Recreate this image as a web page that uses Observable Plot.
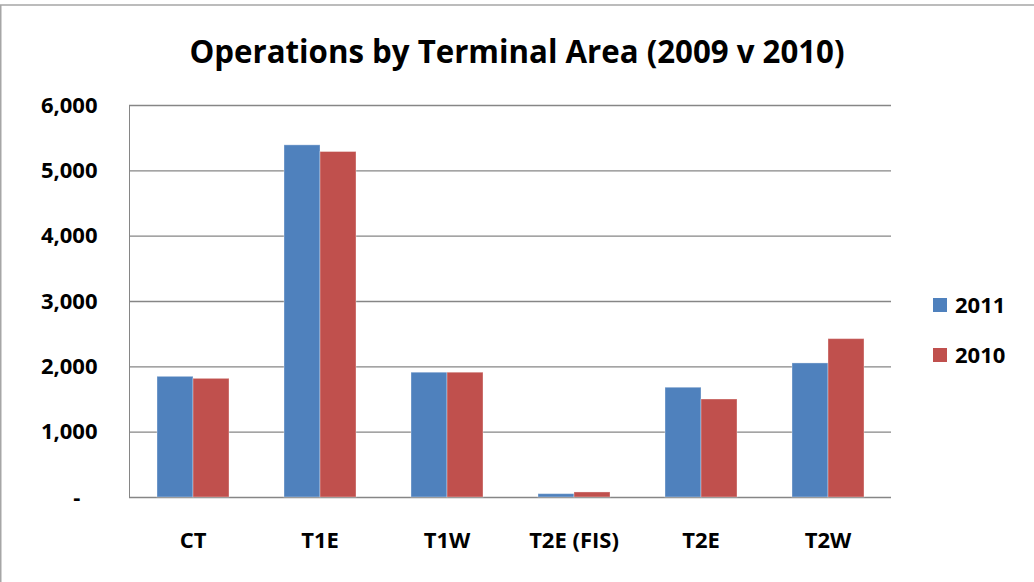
<!DOCTYPE html>
<html>
<head>
<meta charset="utf-8">
<script src="https://cdn.jsdelivr.net/npm/d3@7"></script>
<script src="https://cdn.jsdelivr.net/npm/@observablehq/plot@0.6"></script>
<style>
  html, body { margin: 0; padding: 0; background: #fff; }
  #wrap { position: relative; width: 1034px; height: 582px; overflow: hidden; }
  #wrap svg { display: block; }
  #wrap svg text { fill: #000; }
</style>
</head>
<body>
<div id="wrap"></div>
<script>
const title = "Operations by Terminal Area (2009 v 2010)";
const categories = ["CT", "T1E", "T1W", "T2E (FIS)", "T2E", "T2W"];
const series = ["2011", "2010"];
const values2011 = [1847, 5390, 1910, 51, 1680, 2052];
const values2010 = [1816, 5288, 1910, 77, 1500, 2424];
const yTicks = [0, 1000, 2000, 3000, 4000, 5000, 6000];
const colors = ["#4F81BD", "#C0504D"];

const data = categories.flatMap((c, i) => [
  {category: c, series: series[0], value: values2011[i]},
  {category: c, series: series[1], value: values2010[i]}
]);

const fmt = d3.format(",");
const chart = Plot.plot({
  width: 1034,
  height: 582,
  marginLeft: 127,
  marginRight: 141,
  marginTop: 105,
  marginBottom: 85,
  style: {fontFamily: "'Open Sans', sans-serif", fontSize: "22px", fontWeight: "bold", color: "#868686", background: "transparent"},
  fx: {domain: categories, paddingInner: 0, paddingOuter: 0, label: null, axis: "bottom", tickSize: 0, tickPadding: 35},
  x: {domain: series, paddingInner: 0, paddingOuter: 0.75, axis: null},
  y: {domain: [0, 6000], ticks: yTicks, tickFormat: d => d === 0 ? "-\u00a0\u00a0\u00a0" : fmt(d), tickSize: 0, tickPadding: 32, label: null, line: true},
  color: {domain: series, range: colors},
  marks: [
    Plot.ruleY(yTicks, {stroke: "#868686", strokeWidth: 1.3}),
    Plot.barY(data, {fx: "category", x: "series", y: "value", fill: "series", stroke: "#ffffff", strokeOpacity: 0.35, strokeWidth: 1})
  ]
});

const wrap = document.getElementById("wrap");
wrap.appendChild(chart);
const svg = d3.select(chart);

// outer chart border (top and left edges visible)
svg.append("line").attr("x1", 0).attr("x2", 1034).attr("y1", 5).attr("y2", 5).attr("stroke", "#a6a6a6").attr("stroke-width", 1.5);
svg.append("line").attr("x1", 0.75).attr("x2", 0.75).attr("y1", 5).attr("y2", 582).attr("stroke", "#a6a6a6").attr("stroke-width", 1.5);

// title
svg.append("text")
  .attr("x", 517).attr("y", 63)
  .attr("text-anchor", "middle")
  .attr("textLength", 655).attr("lengthAdjust", "spacingAndGlyphs")
  .style("font-family", "'Open Sans', sans-serif").style("font-weight", "bold").style("font-size", "32px")
  .style("fill", "#000")
  .text(title);

// legend
const color = chart.scale("color");
const lg = svg.append("g");
series.forEach((s, i) => {
  const cy = 305 + i * 50;
  lg.append("rect").attr("x", 933).attr("y", cy - 7).attr("width", 14).attr("height", 14).attr("fill", color.apply(s));
  lg.append("text").attr("x", 955).attr("y", cy).attr("dy", "0.35em")
    .attr("text-anchor", "start")
    .style("font-family", "'Open Sans', sans-serif").style("font-weight", "bold").style("font-size", "22px")
    .style("fill", "#000").text(s);
});
</script>
</body>
</html>
